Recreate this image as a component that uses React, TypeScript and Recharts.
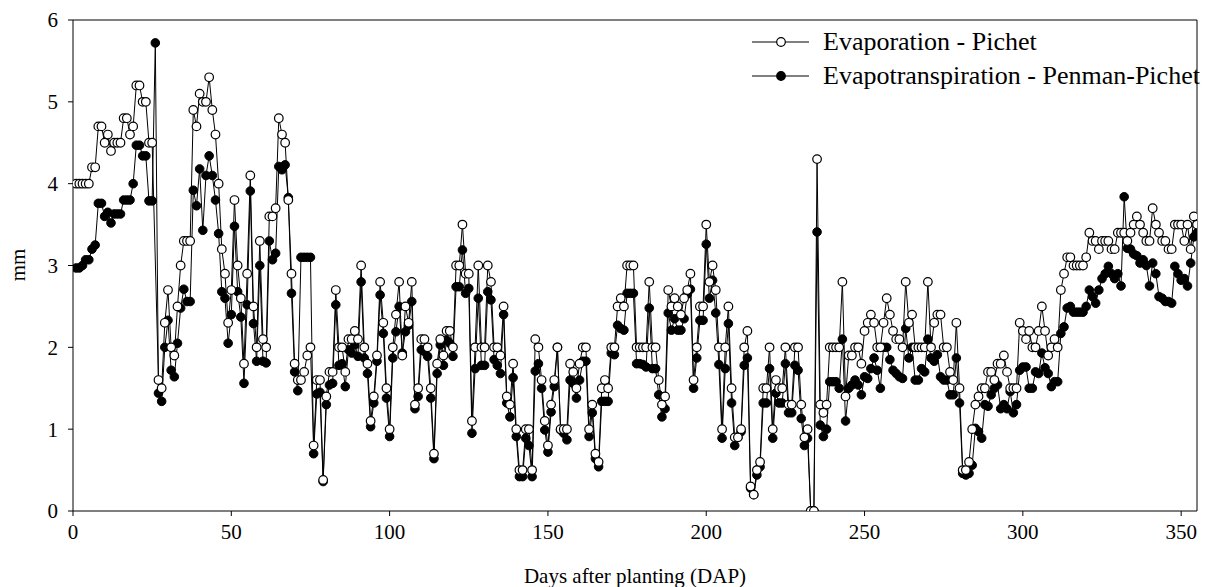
import { LineChart, Line, XAxis, YAxis, ReferenceLine } from 'recharts'

const FONT = '"Liberation Serif", "Times New Roman", serif'

const xTicks = [0, 50, 100, 150, 200, 250, 300, 350]
const yTicks = [0, 1, 2, 3, 4, 5, 6]
const seriesNames = ['Evaporation - Pichet', 'Evapotranspiration - Penman-Pichet']

// daily values, day 1 .. 355 (mm)
const evaporation: (number | null)[] = [
  4.0, 4.0, 4.0, 4.0, 4.0, 4.2, 4.2, 4.7, 4.7, 4.5, 4.6, 4.4, 4.5, 4.5, 4.5, 4.8, 4.8, 4.6, 4.7, 5.2,
  5.2, 5.0, 5.0, 4.5, 4.5, null,
  1.6, 1.5, 2.3, 2.7, 2.0, 1.9, 2.5, 3.0, 3.3, 3.3, 3.3,
  4.9, 4.7, 5.1, 5.0, 5.0, 5.3, 4.9, 4.6, 4.0, 3.2, 2.9, 2.3, 2.7, 3.8, 3.0, 2.6, 1.8, 2.9, 4.1, 2.5,
  2.0, 3.3, 2.1,
  2.0, 3.6, 3.6, 3.7, 4.8, 4.6, 4.5, 3.8, 2.9, 1.8, 1.6, 1.6, 1.7, 1.9, 2.0, 0.8, 1.6, 1.6, 0.38, 1.4,
  1.7, 1.7, 2.7, 2.0, 2.0, 1.7, 2.1, 2.1, 2.2,
  2.1, 3.0, 2.0, 1.8, 1.1, 1.4, 1.9, 2.8, 2.3, 1.5, 1.0, 2.0, 2.4, 2.8, 1.9, 2.5, 2.3, 2.8, 1.3, 1.5,
  2.1, 2.1, 2.0, 1.5, 0.7, 1.8, 2.1, 1.9, 2.2,
  2.2, 2.0, 3.0, 3.0, 3.5, 2.9, 2.9, 1.1, 2.0, 3.0, 2.0, 2.0, 3.0, 2.8, 2.0, 2.0, 1.9, 2.5, 1.4, 1.3,
  1.8, 1.0, 0.5, 0.5, 1.0, 1.0, 0.5, 2.1, 2.0,
  1.6, 1.1, 0.8, 1.3, 1.6, 2.0, 1.0, 1.0, 1.0, 1.8, 1.7, 1.5, 1.8, 2.0, 2.0, 1.0, 1.3, 0.7, 0.6, 1.5,
  1.6, 1.5, 2.0, 2.0, 2.5, 2.6, 2.5, 3.0, 3.0, 3.0, 2.0,
  2.0, 2.0, 2.0, 2.8, 2.0, 2.0, 1.6, 1.3, 1.4, 2.7, 2.5, 2.6, 2.5, 2.4, 2.6, 2.7, 2.9, 1.6, 2.0, 2.5,
  2.5, 3.5, 2.8, 3.0, 2.7, 2.0, 1.0, 2.0, 2.5, 1.5,
  0.9, 0.9, 1.0, 2.0, 2.2, 0.3, 0.2, 0.5, 0.6, 1.5, 1.5, 2.0, 1.0, 1.6, 1.5, 1.5, 2.0, 1.3, 1.3, 2.0,
  2.0, 1.3, 0.9, 1.0, 0, 0, 4.3, 1.3, 1.2,
  1.3, 2.0, 2.0, 2.0, 2.0, 2.8, 1.4, 1.9, 1.9, 2.0, 2.0, 1.8, 2.2, 2.3, 2.4, 2.3, 2.0, 2.0, 2.3, 2.6,
  2.4, 2.2, 2.1, 2.1, 2.0, 2.8, 2.3, 2.4, 2.0, 2.0,
  2.0, 2.0, 2.8, 2.0, 2.3, 2.4, 2.4, 2.0, 2.0, 1.7, 1.6, 2.3, 1.5, 0.5, 0.5, 0.6, 1.0, 1.3, 1.4, 1.5,
  1.5, 1.7, 1.7, 1.6, 1.8, 1.8, 1.9, 1.7, 1.5, 1.5,
  1.5, 2.3, 2.2, 2.1, 2.2, 2.0, 2.0, 2.2, 2.5, 2.2, 1.9, 2.0, 2.1, 2.0, 2.7, 2.9, 3.1, 3.1, 3.0, 3.0,
  3.0, 3.0, 3.1, 3.4, 3.3, 3.3, 3.2, 3.3, 3.3, 3.3,
  3.2, 3.2, 3.4, 3.4, 3.4, 3.3, 3.4, 3.5, 3.6, 3.5, 3.4, 3.3, 3.3, 3.7, 3.5, 3.4, 3.3, 3.3, 3.2, 3.2,
  3.5, 3.5, 3.5, 3.3, 3.5, 3.2, 3.6, 3.5,
]

const evapotranspiration: number[] = [
  2.97, 2.97, 3.0, 3.07, 3.07, 3.2, 3.25, 3.76, 3.76, 3.6, 3.65, 3.52, 3.63, 3.63, 3.63, 3.8, 3.8, 3.8,
  4.0, 4.47, 4.47, 4.34, 4.34, 3.79, 3.79, 5.72, 1.44, 1.34, 2.0, 2.33, 1.72, 1.64, 2.05, 2.48, 2.71,
  2.56, 2.56,
  3.92, 3.73, 4.18, 3.43, 4.1, 4.34, 4.1, 3.8, 3.39, 2.68, 2.6, 2.05, 2.4, 3.48, 2.68, 2.37, 1.56, 2.52,
  3.91, 2.29, 1.83, 3.0, 1.83,
  1.81, 3.3, 3.07, 3.15, 4.21, 4.17, 4.23, 3.83, 2.66, 1.7, 1.47, 3.1, 3.1, 3.1, 3.1, 0.7, 1.43, 1.45,
  0.36, 1.3, 1.54, 1.56, 2.52, 1.78, 1.8, 1.52, 1.97, 1.93, 2.03,
  1.89, 2.8, 1.87, 1.68, 1.03, 1.32, 1.83, 2.64, 2.17, 1.38, 0.91, 1.87, 2.19, 2.5, 1.93, 2.19, 2.27,
  2.56, 1.25, 1.4, 1.97, 1.95, 1.89, 1.38, 0.64, 1.68, 2.03, 1.78, 2.09,
  2.05, 1.89, 2.74, 2.74, 3.19, 2.66, 2.72, 0.95, 1.74, 2.6, 1.78, 1.78, 2.68, 2.58, 1.85, 1.78, 1.68,
  2.4, 1.32, 1.15, 1.63, 0.91, 0.42, 0.42, 0.89, 0.8, 0.42, 1.71, 1.8,
  1.5, 0.99, 0.72, 1.21, 1.52, 2.0, 0.99, 0.95, 0.87, 1.6, 1.56, 1.38, 1.6, 1.83, 1.83, 0.91, 1.2, 0.64,
  0.54, 1.34, 1.34, 1.34, 1.93, 1.91, 2.27, 2.23, 2.21, 2.66, 2.66, 2.66, 1.8,
  1.8, 1.79, 1.76, 2.48, 1.74, 1.74, 1.42, 1.15, 1.25, 2.42, 2.21, 2.35, 2.21, 2.21, 2.35, 2.65, 2.71,
  1.5, 1.87, 2.33, 2.33, 3.26, 2.6, 2.82, 2.42, 1.79, 0.89, 1.74, 2.29, 1.32,
  0.8, 0.9, 0.97, 1.78, 1.87, 0.28, 0.2, 0.44, 0.54, 1.32, 1.32, 1.74, 0.89, 1.44, 1.32, 1.32, 1.8, 1.2,
  1.2, 1.78, 1.72, 1.13, 0.8, 0.89, 0, 0, 3.41, 1.05, 0.91,
  1.0, 1.58, 1.58, 1.58, 1.5, 2.1, 1.1, 1.5, 1.54, 1.6, 1.54, 1.42, 1.64, 1.62, 1.74, 1.87, 1.72, 1.5,
  2.0, 2.0, 1.85, 1.72, 1.68, 1.64, 1.62, 2.23, 1.87, 2.0, 1.6, 1.6,
  1.74, 1.7, 2.1, 1.87, 1.83, 1.91, 1.64, 1.6, 1.6, 1.42, 1.42, 1.87, 1.32, 0.46, 0.44, 0.46, 0.56, 1.01,
  0.97, 0.89, 1.3, 1.28, 1.42, 1.5, 1.54, 1.25, 1.3, 1.25, 1.46, 1.2,
  1.3, 1.72, 1.76, 1.76, 1.5, 1.5, 1.7, 1.68, 1.93, 1.75, 1.68, 1.52, 1.58, 1.58, 2.17, 2.25, 2.48, 2.5,
  2.43, 2.43, 2.43, 2.43, 2.5, 2.7, 2.62, 2.54, 2.7, 2.84, 2.9, 2.99,
  2.9, 2.84, 2.9, 2.75, 3.84, 3.21, 3.2, 3.14, 3.12, 3.03, 3.07, 3.0, 2.75, 3.03, 2.9, 2.62, 2.6, 2.56,
  2.56, 2.54, 2.99, 2.9, 2.82, 2.84, 2.75, 3.03, 3.35, 3.4,
]

const data = evapotranspiration.map((et, i) => ({
  day: i + 1,
  evap: evaporation[i],
  et,
}))

const tickStyle = { fontFamily: FONT, fontSize: 21, fill: '#000' }

function LegendBox() {
  return (
    <div
      style={{
        position: 'absolute',
        left: 752,
        top: 25,
        fontFamily: FONT,
        fontSize: 26,
        color: '#000',
      }}
    >
      {seriesNames.map((name, i) => (
        <div key={name} style={{ display: 'flex', alignItems: 'center', height: 34 }}>
          <svg width={57} height={14} style={{ marginRight: 14 }}>
            <line x1={0} y1={7} x2={57} y2={7} stroke="#000" strokeWidth={1} />
            <circle
              cx={29}
              cy={7}
              r={4.3}
              fill={i === 0 ? '#fff' : '#000'}
              stroke="#000"
              strokeWidth={1.2}
            />
          </svg>
          <span style={{ whiteSpace: 'nowrap' }}>{name}</span>
        </div>
      ))}
    </div>
  )
}

export default function App() {
  return (
    <div style={{ position: 'absolute', left: 0, top: 0, width: 1214, height: 587, background: '#fff' }}>
      <LineChart
        width={1214}
        height={587}
        data={data}
        margin={{ top: 20, right: 17, left: 13, bottom: 0 }}
      >
        <XAxis
          dataKey="day"
          type="number"
          domain={[0, 355]}
          ticks={xTicks}
          tick={tickStyle}
          tickSize={5}
          tickMargin={8}
          height={76}
          axisLine={{ stroke: '#000' }}
          tickLine={{ stroke: '#000' }}
          allowDataOverflow
        />
        <YAxis
          type="number"
          domain={[0, 6]}
          ticks={yTicks}
          tick={tickStyle}
          tickSize={5}
          tickMargin={10}
          width={60}
          axisLine={{ stroke: '#000' }}
          tickLine={{ stroke: '#000' }}
          allowDataOverflow
        />
        <ReferenceLine y={6} stroke="#000" />
        <ReferenceLine x={355} stroke="#000" />
        <Line
          dataKey="et"
          stroke="#000"
          strokeWidth={1}
          dot={{ r: 4.3, fill: '#000', stroke: '#000', strokeWidth: 1 }}
          isAnimationActive={false}
        />
        <Line
          dataKey="evap"
          stroke="#000"
          strokeWidth={1}
          connectNulls
          dot={{ r: 4.3, fill: '#fff', stroke: '#000', strokeWidth: 1.2 }}
          isAnimationActive={false}
        />
      </LineChart>
      <LegendBox />
      <div
        style={{
          position: 'absolute',
          left: 18,
          top: 265,
          transform: 'translate(-50%, -50%) rotate(-90deg)',
          fontFamily: FONT,
          fontSize: 21,
        }}
      >
        mm
      </div>
      <div
        style={{
          position: 'absolute',
          left: 635,
          top: 576,
          transform: 'translate(-50%, -50%)',
          fontFamily: FONT,
          fontSize: 21,
          whiteSpace: 'nowrap',
        }}
      >
        Days after planting (DAP)
      </div>
    </div>
  )
}
